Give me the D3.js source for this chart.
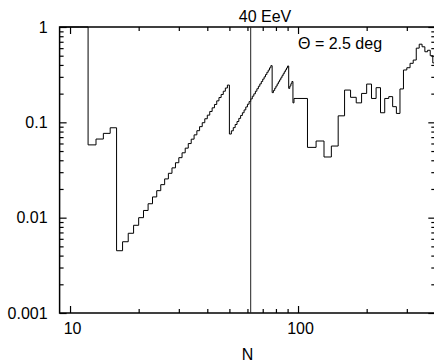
<!DOCTYPE html>
<html>
<head>
<meta charset="utf-8">
<script src="https://cdn.jsdelivr.net/npm/d3@7"></script>
<style>
  body { margin: 0; background: #fff; }
  svg { font-family: "Liberation Sans", Arial, sans-serif; }
</style>
</head>
<body>
<script>
// lower edge of each bin (unit bins below 100, bins of 10 above)
const binStart = [
  9, 10, 11, 12, 13, 14, 15, 16, 17, 18, 19,
  20, 21, 22, 23, 24, 25, 26, 27, 28, 29,
  30, 31, 32, 33, 34, 35, 36, 37, 38, 39,
  40, 41, 42, 43, 44, 45, 46, 47, 48, 49,
  50, 51, 52, 53, 54, 55, 56, 57, 58, 59,
  60, 61, 62, 63, 64, 65, 66, 67, 68, 69,
  70, 71, 72, 73, 74, 75, 76, 77, 78, 79,
  80, 81, 82, 83, 84, 85, 86, 87, 88, 89,
  90, 91, 92, 93, 94, 95, 96, 97, 98, 99,
  100, 110, 120, 130, 140, 150, 160, 170, 180, 190,
  200, 210, 220, 230, 240, 250, 260, 270, 280, 290,
  300, 310, 320, 330, 340, 350, 360, 370, 380, 390
];
const binEnd = 400;

const prob = [
  1, 1, 1, 0.058, 0.0668, 0.0766, 0.0877, 0.0045, 0.00559, 0.00686, 0.00832,
  0.0100, 0.0119, 0.0140, 0.0165, 0.0192, 0.0222, 0.0255, 0.0292, 0.0333, 0.0377,
  0.0426, 0.0479, 0.0536, 0.0599, 0.0666, 0.0739, 0.0817, 0.0901, 0.0991, 0.109,
  0.119, 0.130, 0.142, 0.154, 0.168, 0.182, 0.196, 0.212, 0.229, 0.246,
  0.0754, 0.0815, 0.0880, 0.0949, 0.102, 0.110, 0.118, 0.126, 0.135, 0.145,
  0.155, 0.165, 0.176, 0.188, 0.199, 0.212, 0.225, 0.239, 0.253, 0.268,
  0.284, 0.300, 0.317, 0.335, 0.353, 0.373, 0.393, 0.205, 0.216, 0.228,
  0.240, 0.253, 0.266, 0.279, 0.293, 0.308, 0.323, 0.339, 0.355, 0.372,
  0.390, 0.227, 0.240, 0.254, 0.268, 0.160, 0.178, 0.178, 0.178, 0.178,
  0.178, 0.0546, 0.0637, 0.0433, 0.0564, 0.117, 0.218, 0.183, 0.160, 0.201,
  0.252, 0.178, 0.231, 0.126, 0.178, 0.186, 0.146, 0.124, 0.224, 0.354,
  0.374, 0.416, 0.45, 0.60, 0.66, 0.62, 0.55, 0.57, 0.50, 0.42
];

const thresholdN = 62;
const thresholdLabel = "40 EeV";
const angleLabel = "\u0398 = 2.5 deg";
const xLabel = "N";

const xMajor = [10, 100];
const xMinor = [20, 30, 40, 50, 60, 70, 80, 90, 200, 300];
const yMajor = [0.001, 0.01, 0.1, 1];
const yMinor = [];
[0.001, 0.01, 0.1].forEach((d) => {
  [2, 3, 4, 5, 6, 7, 8, 9].forEach((m) => yMinor.push(+(d * m).toPrecision(3)));
});

const width = 434, height = 361;
const x = d3.scaleLog().domain([9, 400]).range([59.6, 435.3]);
const y = d3.scaleLog().domain([0.001, 1]).range([313, 27]);

const svg = d3.select("body").append("svg")
  .attr("width", width)
  .attr("height", height);

// frame
svg.append("rect")
  .attr("x", x.range()[0])
  .attr("y", y.range()[1])
  .attr("width", x.range()[1] - x.range()[0])
  .attr("height", y.range()[0] - y.range()[1])
  .attr("fill", "none")
  .attr("stroke", "#000")
  .attr("stroke-width", 1.5);

function styleAxis(g) {
  g.select(".domain").remove();
  g.selectAll("line").attr("stroke", "#000").attr("stroke-width", 1.2);
  g.selectAll("text").attr("font-size", 16).attr("fill", "#000")
    .attr("font-family", "Liberation Sans, Arial, sans-serif");
}

// bottom
svg.append("g").attr("transform", `translate(0,${y.range()[0]})`)
  .call(d3.axisBottom(x).tickValues(xMajor).tickSizeInner(-7).tickSizeOuter(0)
    .tickPadding(10).tickFormat(d3.format("d")))
  .call(styleAxis)
  .call((g) => g.selectAll("text").attr("dx", 2));
svg.append("g").attr("transform", `translate(0,${y.range()[0]})`)
  .call(d3.axisBottom(x).tickValues(xMinor).tickSizeInner(-4).tickSizeOuter(0).tickFormat(""))
  .call(styleAxis);
// top
svg.append("g").attr("transform", `translate(0,${y.range()[1]})`)
  .call(d3.axisTop(x).tickValues(xMajor).tickSizeInner(-7).tickSizeOuter(0).tickFormat(""))
  .call(styleAxis);
svg.append("g").attr("transform", `translate(0,${y.range()[1]})`)
  .call(d3.axisTop(x).tickValues(xMinor).tickSizeInner(-4).tickSizeOuter(0).tickFormat(""))
  .call(styleAxis);
// left
svg.append("g").attr("transform", `translate(${x.range()[0]},0)`)
  .call(d3.axisLeft(y).tickValues(yMajor).tickSizeInner(-7).tickSizeOuter(0)
    .tickPadding(12).tickFormat((d) => String(d)))
  .call(styleAxis);
svg.append("g").attr("transform", `translate(${x.range()[0]},0)`)
  .call(d3.axisLeft(y).tickValues(yMinor).tickSizeInner(-4).tickSizeOuter(0).tickFormat(""))
  .call(styleAxis);
// right
svg.append("g").attr("transform", `translate(${x.range()[1]},0)`)
  .call(d3.axisRight(y).tickValues(yMajor).tickSizeInner(-7).tickSizeOuter(0).tickFormat(""))
  .call(styleAxis);
svg.append("g").attr("transform", `translate(${x.range()[1]},0)`)
  .call(d3.axisRight(y).tickValues(yMinor).tickSizeInner(-4).tickSizeOuter(0).tickFormat(""))
  .call(styleAxis);

// step curve
const pts = binStart.map((n, i) => [n, prob[i]]);
pts.push([binEnd, prob[prob.length - 1]]);
const line = d3.line()
  .x((d) => x(d[0]))
  .y((d) => y(d[1]))
  .curve(d3.curveStepAfter);
svg.append("path")
  .datum(pts)
  .attr("d", line)
  .attr("fill", "none")
  .attr("stroke", "#000")
  .attr("stroke-width", 1);

// threshold line
svg.append("line")
  .attr("x1", x(thresholdN)).attr("x2", x(thresholdN))
  .attr("y1", y.range()[1]).attr("y2", y.range()[0])
  .attr("stroke", "#222")
  .attr("stroke-width", 1);

svg.append("text")
  .attr("x", 265).attr("y", 21.5)
  .attr("text-anchor", "middle")
  .attr("font-size", 16)
  .text(thresholdLabel);

svg.append("text")
  .attr("x", 298).attr("y", 49)
  .attr("font-size", 16)
  .text(angleLabel);

svg.append("text")
  .attr("x", (x.range()[0] + x.range()[1]) / 2).attr("y", 359.5)
  .attr("text-anchor", "middle")
  .attr("font-size", 16)
  .text(xLabel);
</script>
</body>
</html>
